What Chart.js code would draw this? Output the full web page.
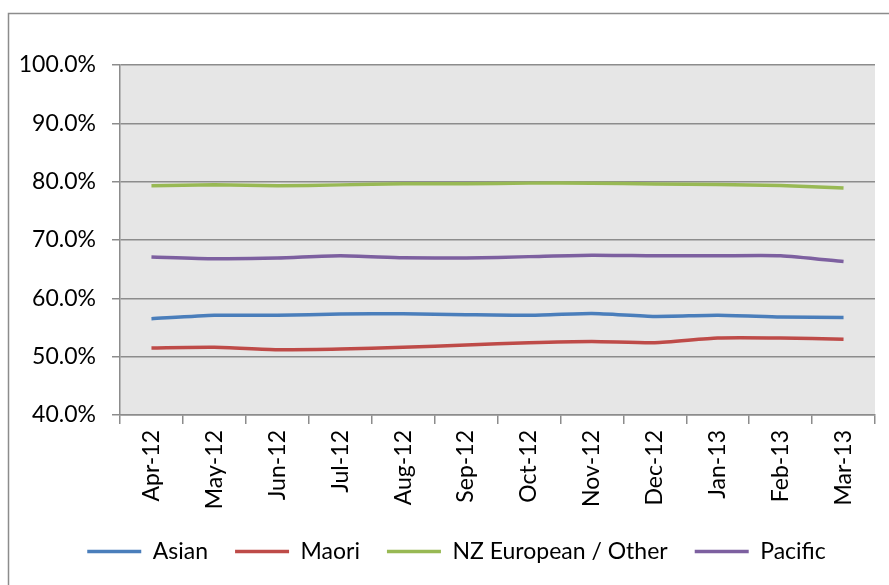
<!DOCTYPE html>
<html>
<head>
<meta charset="utf-8">
<script src="https://cdn.jsdelivr.net/npm/chart.js@4.4.1/dist/chart.umd.min.js"></script>
<style>
  html, body { margin: 0; padding: 0; background: #fff; }
  #wrap { width: 889px; height: 585px; position: relative; }
</style>
</head>
<body>
<div id="wrap"><canvas id="myChart" width="889" height="585"></canvas></div>
<script>
// data
const months = ["Apr-12", "May-12", "Jun-12", "Jul-12", "Aug-12", "Sep-12",
  "Oct-12", "Nov-12", "Dec-12", "Jan-13", "Feb-13", "Mar-13"];
const asian = [56.5, 57.1, 57.1, 57.3, 57.35, 57.2, 57.1, 57.4, 56.9, 57.1, 56.8, 56.7];
const maori = [51.5, 51.6, 51.2, 51.3, 51.6, 52.0, 52.4, 52.6, 52.4, 53.2, 53.2, 53.0];
const nzEuropean = [79.3, 79.45, 79.3, 79.45, 79.65, 79.65, 79.75, 79.75, 79.6, 79.5, 79.35, 78.9];
const pacific = [67.1, 66.8, 66.9, 67.3, 66.95, 66.9, 67.15, 67.4, 67.3, 67.3, 67.3, 66.3];
const yTicks = [40, 50, 60, 70, 80, 90, 100];

const FONT = "Lato, 'Open Sans', sans-serif";

// grey plot background + outer frame
const frame = {
  id: "frame",
  afterLayout(chart) {
    // nudge legend to the right, like the original
    chart.legend.left += 38;
  },
  beforeDraw(chart) {
    const { ctx, chartArea } = chart;
    ctx.save();
    ctx.fillStyle = "#e6e6e6";
    ctx.fillRect(chartArea.left, chartArea.top,
      chartArea.right - chartArea.left, chartArea.bottom - chartArea.top);
    ctx.strokeStyle = "#8c8c8c";
    ctx.lineWidth = 1.5;
    ctx.strokeRect(8.5, 13.5, 900, 600);
    ctx.restore();
  },
};

function makeSet(label, data, color) {
  return {
    label: label,
    data: data,
    borderColor: color,
    backgroundColor: color,
    borderWidth: 3.5,
    pointRadius: 0,
    pointStyle: "line",
    tension: 0.2,
    fill: false,
  };
}

const ctx = document.getElementById("myChart").getContext("2d");
const myChart = new Chart(ctx, {
  type: "line",
  data: {
    labels: months,
    datasets: [
      makeSet("Asian", asian, "#4a7ebb"),
      makeSet("Maori", maori, "#be4b48"),
      makeSet("NZ European / Other", nzEuropean, "#98b954"),
      makeSet("Pacific", pacific, "#7d60a0"),
    ],
  },
  options: {
    responsive: false,
    animation: false,
    layout: { padding: { top: 65, right: 14, left: 0, bottom: 12 } },
    plugins: {
      tooltip: { enabled: false },
      legend: {
        position: "bottom",
        labels: {
          color: "#000",
          font: { family: FONT, size: 23 },
          usePointStyle: true,
          pointStyleWidth: 54,
          padding: 27,
        },
      },
    },
    scales: {
      x: {
        offset: true,
        afterFit(scale) { scale.height = 98; },
        grid: {
          offset: true,
          drawOnChartArea: false,
          drawTicks: true,
          tickLength: 9,
          color: "#8c8c8c",
          lineWidth: 1.5,
        },
        border: { color: "#8c8c8c", width: 1.5 },
        ticks: {
          color: "#000",
          font: { family: FONT, size: 23 },
          minRotation: 90,
          maxRotation: 90,
          padding: 6,
          autoSkip: false,
        },
      },
      y: {
        min: 40,
        max: 100,
        afterFit(scale) { scale.width = 120; },
        afterBuildTicks(scale) { scale.ticks = yTicks.map((v) => ({ value: v })); },
        grid: {
          color: "#8c8c8c",
          lineWidth: 1.5,
          drawTicks: true,
          tickLength: 8,
        },
        border: { color: "#8c8c8c", width: 1.5 },
        ticks: {
          color: "#000",
          font: { family: FONT, size: 23 },
          padding: 16,
          callback: (v) => v.toFixed(1) + "%",
        },
      },
    },
  },
  plugins: [frame],
});
</script>
</body>
</html>
